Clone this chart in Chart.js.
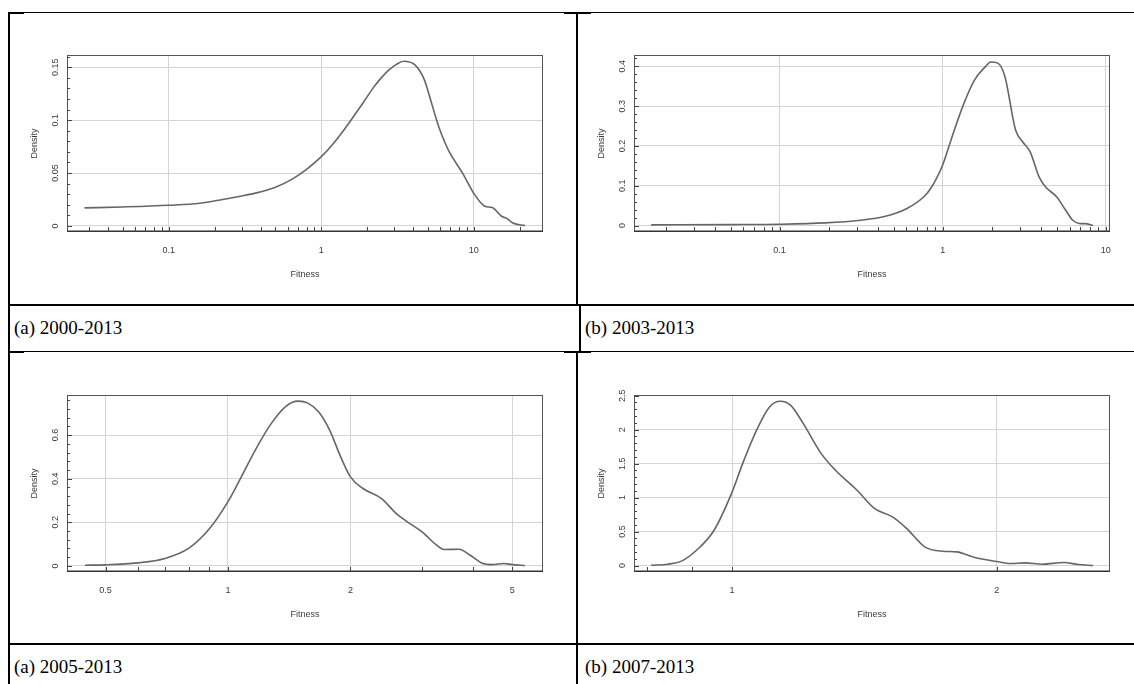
<!DOCTYPE html>
<html>
<head>
<meta charset="utf-8">
<title>Fitness density, four periods</title>
<script src="https://cdn.jsdelivr.net/npm/chart.js@4/dist/chart.umd.min.js"></script>
<style>
  html, body { margin: 0; padding: 0; background: #fff; }
  #page { position: relative; width: 1134px; height: 684px; overflow: hidden; background: #fff; }
  #page canvas { position: absolute; left: 0; top: 0; }
  .rule { position: absolute; background: #000; }
  .cap { position: absolute; font-family: "Liberation Serif", "Times New Roman", serif; font-size: 19px;
         line-height: 1; color: #000; white-space: nowrap; }
</style>
</head>
<body>
<div id="page">
  <!-- table rules -->
  <div class="rule" style="left:8px;top:12px;width:1126px;height:1px"></div>
  <div class="rule" style="left:8px;top:12px;width:16px;height:2px"></div>
  <div class="rule" style="left:564px;top:12px;width:27px;height:2px"></div>
  <div class="rule" style="left:8px;top:12px;width:2px;height:672px"></div>
  <div class="rule" style="left:576px;top:12px;width:2px;height:293px"></div>
  <div class="rule" style="left:8px;top:304px;width:1126px;height:2px"></div>
  <div class="rule" style="left:579px;top:305px;width:2px;height:47px"></div>
  <div class="rule" style="left:8px;top:351px;width:1126px;height:1px"></div>
  <div class="rule" style="left:8px;top:351px;width:16px;height:2px"></div>
  <div class="rule" style="left:564px;top:351px;width:27px;height:2px"></div>
  <div class="rule" style="left:576px;top:352px;width:2px;height:332px"></div>
  <div class="rule" style="left:8px;top:643px;width:1126px;height:2px"></div>

  <div class="cap" id="cap0" style="left:14px;top:318px"></div>
  <div class="cap" id="cap1" style="left:585px;top:318px"></div>
  <div class="cap" id="cap2" style="left:14px;top:657px"></div>
  <div class="cap" id="cap3" style="left:585px;top:657px"></div>

  <canvas id="c2000" width="1134" height="684"></canvas>
  <canvas id="c2003" width="1134" height="684"></canvas>
  <canvas id="c2005" width="1134" height="684"></canvas>
  <canvas id="c2007" width="1134" height="684"></canvas>
</div>

<script>
// ---- density estimates of fitness, one pair of arrays per period ----
const fit2000  = [0.028, 0.05, 0.1, 0.16, 0.225, 0.3, 0.393, 0.5, 0.648, 0.8, 1, 1.2, 1.41, 1.6, 1.87, 2.2, 2.47, 2.8, 3.09, 3.46, 4.09, 4.71, 5.26, 5.7, 6.05, 6.5, 6.96, 8.45, 10, 11.8, 13.2, 15.2, 16.5, 18, 21.6];
const dens2000 = [0.0171, 0.0180, 0.0196, 0.0215, 0.025, 0.0283, 0.032, 0.0365, 0.0445, 0.0535, 0.0655, 0.078, 0.091, 0.102, 0.116, 0.131, 0.140, 0.148, 0.1525, 0.1557, 0.1525, 0.139, 0.117, 0.100, 0.089, 0.078, 0.069, 0.0497, 0.0307, 0.0187, 0.0174, 0.0092, 0.007, 0.0028, 0.0003];

const fit2003  = [0.0163, 0.05, 0.1, 0.19, 0.313, 0.446, 0.604, 0.778, 0.85, 0.9, 1, 1.16, 1.35, 1.57, 1.83, 1.97, 2.18, 2.41, 2.8, 3.1, 3.44, 3.9, 4.31, 5.01, 5.68, 6.28, 6.95, 7.49, 8.35];
const dens2003 = [0.0017, 0.0025, 0.0034, 0.0067, 0.0134, 0.0235, 0.043, 0.075, 0.095, 0.112, 0.152, 0.2315, 0.307, 0.366, 0.3993, 0.411, 0.408, 0.374, 0.24, 0.21, 0.185, 0.1225, 0.0956, 0.072, 0.0386, 0.0134, 0.005, 0.005, 0.0];

const fit2005  = [0.445, 0.5, 0.6, 0.7, 0.8, 0.9, 1, 1.076, 1.17, 1.272, 1.383, 1.489, 1.568, 1.67, 1.778, 1.893, 2, 2.148, 2.385, 2.593, 2.76, 3, 3.26, 3.4, 3.7, 3.94, 4.2, 4.47, 4.76, 5, 5.37];
const dens2005 = [0.003, 0.0046, 0.0138, 0.034, 0.08, 0.17, 0.295, 0.405, 0.535, 0.648, 0.73, 0.756, 0.748, 0.707, 0.623, 0.5, 0.4086, 0.355, 0.309, 0.24, 0.202, 0.156, 0.095, 0.075, 0.0765, 0.049, 0.0138, 0.006, 0.0107, 0.006, 0.0015];

const fit2007  = [0.809, 0.845, 0.877, 0.911, 0.954, 1, 1.028, 1.067, 1.103, 1.134, 1.166, 1.205, 1.263, 1.311, 1.387, 1.453, 1.522, 1.58, 1.656, 1.735, 1.801, 1.888, 2, 2.072, 2.151, 2.254, 2.384, 2.475, 2.574];
const dens2007 = [0.005, 0.02, 0.069, 0.225, 0.52, 1.08, 1.50, 2.0, 2.333, 2.417, 2.358, 2.088, 1.647, 1.402, 1.108, 0.838, 0.716, 0.544, 0.275, 0.211, 0.201, 0.118, 0.059, 0.029, 0.039, 0.0196, 0.044, 0.015, 0.0];

// ---- axis ticks ----
const xTicks2000 = [0.1, 1, 10];       const xTickLabels2000 = ['0.1', '1', '10'];
const xTicks2003 = [0.1, 1, 10];       const xTickLabels2003 = ['0.1', '1', '10'];
const xTicks2005 = [0.5, 1, 2, 5];     const xTickLabels2005 = ['0.5', '1', '2', '5'];
const xTicks2007 = [1, 2];             const xTickLabels2007 = ['1', '2'];

const xMinor2000 = [0.03, 0.04, 0.05, 0.06, 0.07, 0.08, 0.09, 0.2, 0.3, 0.4, 0.5, 0.6, 0.7, 0.8, 0.9, 2, 3, 4, 5, 6, 7, 8, 9, 20];
const xMinor2003 = [0.02, 0.03, 0.04, 0.05, 0.06, 0.07, 0.08, 0.09, 0.2, 0.3, 0.4, 0.5, 0.6, 0.7, 0.8, 0.9, 2, 3, 4, 5, 6, 7, 8, 9];
const xMinor2005 = [0.6, 0.7, 0.8, 0.9, 3, 4];
const xMinor2007 = [0.8, 0.9];

const yTicks2000 = [0, 0.05, 0.1, 0.15];           const yTickLabels2000 = ['0', '0.05', '0.1', '0.15'];
const yTicks2003 = [0, 0.1, 0.2, 0.3, 0.4];        const yTickLabels2003 = ['0', '0.1', '0.2', '0.3', '0.4'];
const yTicks2005 = [0, 0.2, 0.4, 0.6];             const yTickLabels2005 = ['0', '0.2', '0.4', '0.6'];
const yTicks2007 = [0, 0.5, 1, 1.5, 2, 2.5];       const yTickLabels2007 = ['0', '0.5', '1', '1.5', '2', '2.5'];

const captions = ['(a) 2000-2013', '(b) 2003-2013', '(a) 2005-2013', '(b) 2007-2013'];
const xTitle = 'Fitness';
const yTitle = 'Density';

// ---- panel layout (plot box in page pixels: left, top, right, bottom) ----
const panels = [
  { canvas: 'c2000', xs: fit2000, ys: dens2000, box: [67, 55, 543, 232],  xr: [0.0215, 28.4], yr: [-0.0057, 0.1616],
    xt: xTicks2000, xl: xTickLabels2000, xm: xMinor2000, yt: yTicks2000, yl: yTickLabels2000, ym: 0.01 },
  { canvas: 'c2003', xs: fit2003, ys: dens2003, box: [634, 55, 1110, 232], xr: [0.0128, 10.62], yr: [-0.0161, 0.4284],
    xt: xTicks2003, xl: xTickLabels2003, xm: xMinor2003, yt: yTicks2003, yl: yTickLabels2003, ym: 0.02 },
  { canvas: 'c2005', xs: fit2005, ys: dens2005, box: [67, 395, 543, 572],  xr: [0.402, 5.95],    yr: [-0.028, 0.784],
    xt: xTicks2005, xl: xTickLabels2005, xm: xMinor2005, yt: yTicks2005, yl: yTickLabels2005, ym: 0.04 },
  { canvas: 'c2007', xs: fit2007, ys: dens2007, box: [634, 395, 1110, 572], xr: [0.7735, 2.69],   yr: [-0.095, 2.51],
    xt: xTicks2007, xl: xTickLabels2007, xm: xMinor2007, yt: yTicks2007, yl: yTickLabels2007, ym: 0.1 }
];

captions.forEach((c, i) => { document.getElementById('cap' + i).textContent = c; });

const INK = '#3a3a3a';
const FONT = '9px "Liberation Sans", Arial, Helvetica, sans-serif';

// Frame, inward tick marks and axis annotation in the style of base R graphics
const frameAxes = {
  id: 'frameAxes',
  afterDraw(chart, args, o) {
    const { ctx, chartArea: a } = chart;
    const sx = chart.scales.x, sy = chart.scales.y;
    ctx.save();
    ctx.strokeStyle = '#555';
    ctx.lineWidth = 1;
    ctx.strokeRect(Math.round(a.left) + 0.5, Math.round(a.top) + 0.5,
                   Math.round(a.right - a.left) - 1, Math.round(a.bottom - a.top) - 1);
    ctx.strokeStyle = '#333';
    ctx.lineWidth = 1.4;
    ctx.beginPath(); ctx.moveTo(a.left, a.bottom - 0.7); ctx.lineTo(a.right, a.bottom - 0.7); ctx.stroke();

    ctx.lineWidth = 1;
    ctx.strokeStyle = '#444';
    ctx.beginPath();
    const xTickAt = (v, len) => {
      const px = Math.round(sx.getPixelForValue(v)) + 0.5;
      ctx.moveTo(px, a.bottom); ctx.lineTo(px, a.bottom - len);
    };
    o.xt.forEach(v => xTickAt(v, 5));
    o.xm.forEach(v => { if (v > sx.min && v < sx.max) xTickAt(v, 5); });
    const yTickAt = (v, len) => {
      const py = Math.round(sy.getPixelForValue(v)) + 0.5;
      ctx.moveTo(a.left, py); ctx.lineTo(a.left + len, py);
    };
    o.yt.forEach(v => yTickAt(v, 5));
    for (let k = 1; o.ym * k < sy.max; k++) {
      if (k % 5 !== 0) yTickAt(o.ym * k, 3);
    }
    ctx.stroke();

    ctx.fillStyle = INK;
    ctx.font = FONT;
    ctx.textAlign = 'center';
    ctx.textBaseline = 'middle';
    o.xt.forEach((v, i) => ctx.fillText(o.xl[i], sx.getPixelForValue(v), a.bottom + 19));
    ctx.fillText(xTitle, (a.left + a.right) / 2, a.bottom + 43);

    o.yt.forEach((v, i) => {
      ctx.save();
      ctx.translate(a.left - 11, sy.getPixelForValue(v));
      ctx.rotate(-Math.PI / 2);
      ctx.fillText(o.yl[i], 0, 0);
      ctx.restore();
    });
    ctx.save();
    ctx.translate(a.left - 32, (a.top + a.bottom) / 2);
    ctx.rotate(-Math.PI / 2);
    ctx.fillText(yTitle, 0, 0);
    ctx.restore();
    ctx.restore();
  }
};

panels.forEach(p => {
  const cv = document.getElementById(p.canvas);
  new Chart(cv, {
    type: 'line',
    data: {
      datasets: [{
        data: p.xs.map((v, i) => ({ x: v, y: p.ys[i] })),
        borderColor: '#666',
        borderWidth: 1.6,
        pointRadius: 0,
        fill: false,
        cubicInterpolationMode: 'monotone'
      }]
    },
    options: {
      responsive: false,
      animation: false,
      devicePixelRatio: 1,
      events: [],
      layout: { padding: { left: p.box[0], top: p.box[1], right: 1134 - p.box[2], bottom: 684 - p.box[3] } },
      plugins: { legend: { display: false }, tooltip: { enabled: false }, frameAxes: p },
      scales: {
        x: {
          type: 'logarithmic', min: p.xr[0], max: p.xr[1], bounds: 'data',
          afterBuildTicks: s => { s.ticks = p.xt.map(v => ({ value: v })); },
          ticks: { display: false },
          grid: { color: '#d4d4d4', lineWidth: 1, drawTicks: false },
          border: { display: false },
          title: { display: false }
        },
        y: {
          type: 'linear', min: p.yr[0], max: p.yr[1], bounds: 'data',
          afterBuildTicks: s => { s.ticks = p.yt.map(v => ({ value: v })); },
          ticks: { display: false },
          grid: { color: '#d4d4d4', lineWidth: 1, drawTicks: false },
          border: { display: false },
          title: { display: false }
        }
      }
    },
    plugins: [frameAxes]
  });
});
</script>
</body>
</html>
